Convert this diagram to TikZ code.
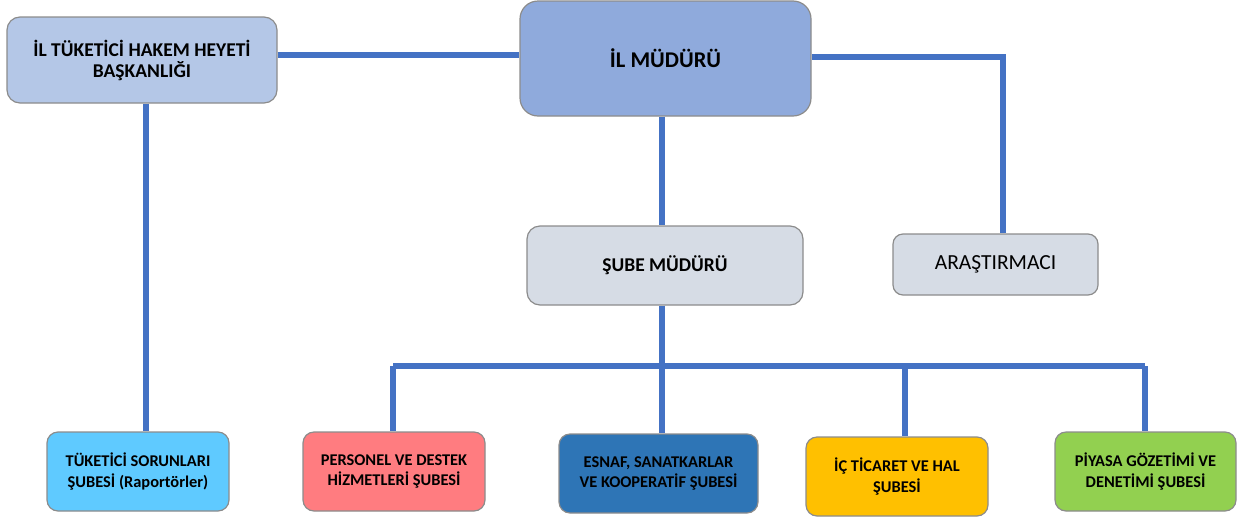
\documentclass[tikz,border=0pt]{standalone}
\usepackage{fontspec}
\setmainfont{Carlito}
\definecolor{conn}{HTML}{4472C4}
\definecolor{bord}{HTML}{8C8C8C}
\definecolor{hakem}{HTML}{B4C7E7}
\definecolor{mudur}{HTML}{8FAADC}
\definecolor{sube}{HTML}{D6DCE5}
\definecolor{tuk}{HTML}{5FCAFF}
\definecolor{pers}{HTML}{FF7C80}
\definecolor{esnaf}{HTML}{2E75B6}
\definecolor{ict}{HTML}{FFC000}
\definecolor{piy}{HTML}{92D050}
\tikzset{
  box/.style={draw=bord, line width=1.2pt, rounded corners=13pt, align=center, inner sep=0pt,
    font=\fontsize{19.5}{21}\selectfont\bfseries},
  lowbox/.style={box, rounded corners=11pt, font=\fontsize{16.4}{20.5}\selectfont\bfseries},
  link/.style={conn, line width=6pt}
}
\begin{document}
\begin{tikzpicture}[x=1pt,y=-1pt]
\useasboundingbox (0,0) rectangle (1242,520);
% boxes
\node[box, fill=hakem, minimum width=270pt, minimum height=86pt] (hakem) at (142,60) {İL TÜKETİCİ HAKEM HEYETİ\\BAŞKANLIĞI};
\node[box, fill=mudur, rounded corners=18pt, minimum width=291pt, minimum height=115pt, font=\fontsize{22.5}{24}\selectfont\bfseries] (ilm) at (665.5,58.5) {İL MÜDÜRÜ};
\node[box, fill=sube, minimum width=276pt, minimum height=79pt] (sm) at (665,265.5) {ŞUBE MÜDÜRÜ};
\node[box, fill=sube, rounded corners=10pt, minimum width=205pt, minimum height=61pt, font=\fontsize{21.5}{24}\selectfont] (ar) at (995.5,264.5) {ARAŞTIRMACI};
\node[lowbox, fill=tuk, minimum width=182pt, minimum height=79pt] (tuk) at (138,471.5) {TÜKETİCİ SORUNLARI\\ŞUBESİ (Raportörler)};
\node[lowbox, fill=pers, minimum width=182pt, minimum height=79pt] (pers) at (394,471.5) {PERSONEL VE DESTEK\\HİZMETLERİ ŞUBESİ};
\node[lowbox, fill=esnaf, minimum width=199pt, minimum height=79pt] (esnaf) at (658.5,473.5) {ESNAF, SANATKARLAR\\VE KOOPERATİF ŞUBESİ};
\node[lowbox, fill=ict, minimum width=182pt, minimum height=79pt] (ict) at (897,476.5) {İÇ TİCARET VE HAL\\ŞUBESİ};
\node[lowbox, fill=piy, minimum width=181pt, minimum height=79pt] (piy) at (1145.5,471.5) {PİYASA GÖZETİMİ VE\\DENETİMİ ŞUBESİ};
% connector helpers
\coordinate (bar) at (0,366);
\coordinate (tr) at (1003,0);
% connectors
\draw[link] (hakem.east |- 0,55) -- (ilm.west |- 0,55);
\draw[link] (146,0 |- hakem.south) -- (146,0 |- tuk.north);
\draw[link] (ilm.east |- 0,57) -- (tr |- 0,57) -- (tr |- ar.north);
\draw[link] (662,0 |- ilm.south) -- (662,0 |- sm.north);
\draw[link] (662,0 |- sm.south) -- (662,0 |- bar);
\draw[link] (393,0 |- bar) -- (1145,0 |- bar);
\draw[link] (393,0 |- bar) -- (393,0 |- pers.north);
\draw[link] (662,0 |- bar) -- (662,0 |- esnaf.north);
\draw[link] (905,0 |- bar) -- (905,0 |- ict.north);
\draw[link] (1145,0 |- bar) -- (1145,0 |- piy.north);
\end{tikzpicture}
\end{document}
